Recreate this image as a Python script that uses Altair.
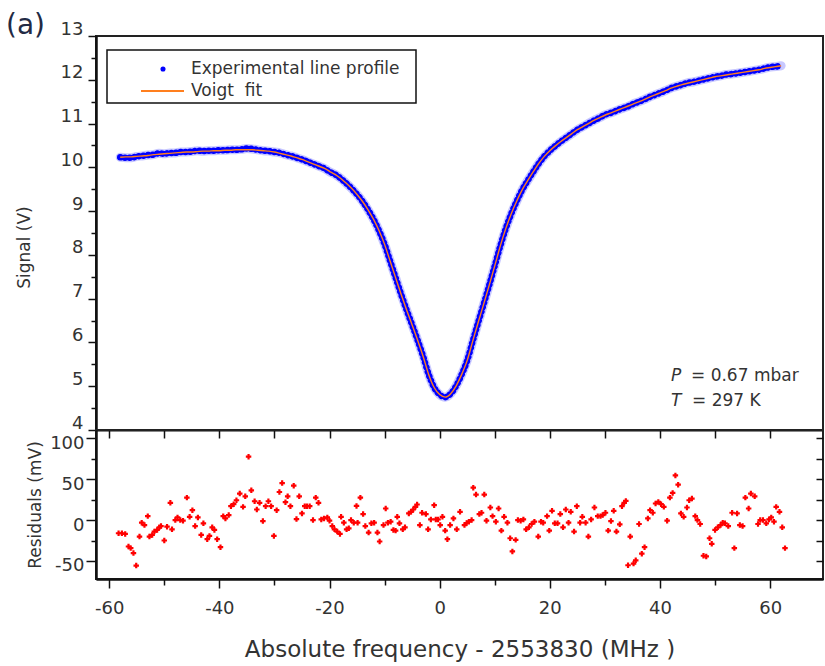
import altair as alt
import pandas as pd

FONT = "DejaVu Sans"
INK = "#333333"
BLUE = "#0000ff"
ORANGE = "#ff7f1e"
RED = "#ff0000"

# ---------------- data ----------------
# Voigt fit (V) at 1 MHz steps
fit_freq = list(range(-58, 63))
fit_signal = [
    10.23, 10.24, 10.24, 10.25, 10.26, 10.27, 10.29, 10.30, 10.31, 10.32,
    10.33, 10.34, 10.35, 10.35, 10.36, 10.37, 10.37, 10.38, 10.38, 10.39,
    10.39, 10.40, 10.40, 10.40, 10.40, 10.39, 10.38, 10.37, 10.35, 10.32,
    10.29, 10.26, 10.22, 10.18, 10.13, 10.08, 10.03, 9.98, 9.91, 9.84,
    9.75, 9.64, 9.52, 9.38, 9.22, 9.03, 8.81, 8.55, 8.24, 7.86,
    7.48, 7.10, 6.74, 6.40, 6.05, 5.68, 5.27, 4.97, 4.81, 4.75,
    4.83, 5.01, 5.27, 5.59, 6.03, 6.46, 6.88, 7.31, 7.75, 8.20,
    8.60, 8.94, 9.23, 9.49, 9.70, 9.90, 10.09, 10.25, 10.38, 10.49,
    10.59, 10.68, 10.77, 10.86, 10.93, 11.00, 11.07, 11.13, 11.19, 11.24,
    11.29, 11.34, 11.39, 11.44, 11.49, 11.54, 11.60, 11.65, 11.70, 11.75,
    11.81, 11.85, 11.89, 11.92, 11.95, 11.98, 12.01, 12.04, 12.07, 12.09,
    12.11, 12.13, 12.15, 12.17, 12.19, 12.21, 12.23, 12.26, 12.28, 12.30,
    12.32,
]

# Experimental line profile (V)
exp_freq = list(range(-58, 63))
exp_signal = [
    10.23, 10.22, 10.22, 10.25, 10.26, 10.28, 10.29, 10.32, 10.31, 10.33,
    10.33, 10.35, 10.35, 10.36, 10.38, 10.37, 10.38, 10.38, 10.39, 10.39,
    10.40, 10.40, 10.41, 10.43, 10.42, 10.40, 10.38, 10.37, 10.35, 10.33,
    10.29, 10.26, 10.22, 10.18, 10.13, 10.08, 10.03, 9.98, 9.90, 9.84,
    9.75, 9.64, 9.52, 9.38, 9.22, 9.03, 8.81, 8.55, 8.24, 7.86,
    7.48, 7.10, 6.74, 6.40, 6.05, 5.68, 5.27, 4.97, 4.81, 4.75,
    4.83, 5.01, 5.27, 5.59, 6.03, 6.46, 6.88, 7.31, 7.75, 8.20,
    8.60, 8.94, 9.23, 9.49, 9.70, 9.90, 10.09, 10.25, 10.38, 10.49,
    10.59, 10.68, 10.77, 10.86, 10.93, 11.00, 11.07, 11.13, 11.20, 11.24,
    11.29, 11.34, 11.38, 11.44, 11.49, 11.54, 11.60, 11.65, 11.70, 11.75,
    11.81, 11.85, 11.89, 11.93, 11.95, 11.98, 12.01, 12.04, 12.07, 12.09,
    12.12, 12.13, 12.15, 12.17, 12.19, 12.21, 12.23, 12.26, 12.29, 12.30,
    12.32,
]

# Residuals (mV)
res_freq = [
    -58.3, -57.7, -57.1, -56.5, -56.1, -55.6, -55.1, -54.5, -54.1, -53.6,
    -53.0, -52.7, -52.2, -51.8, -51.3, -50.9, -50.6, -50.0, -49.5, -48.9,
    -48.6, -48.0, -47.6, -47.1, -46.6, -45.9, -45.4, -44.9, -44.4, -43.9,
    -43.3, -42.9, -42.2, -41.8, -41.3, -40.9, -40.4, -39.8, -39.3, -38.9,
    -38.3, -37.9, -37.4, -36.9, -36.3, -35.7, -35.3, -34.7, -34.2, -33.6,
    -33.2, -32.7, -32.1, -31.6, -31.1, -30.6, -30.1, -29.6, -29.1, -28.6,
    -28.0, -27.6,
    -27.1, -26.5, -26.0, -25.5, -25.0, -24.5, -24.1, -23.6, -23.0, -22.5,
    -22.0, -21.5, -21.0, -20.4, -20.0, -19.5, -19.1, -18.6, -18.1, -17.9,
    -17.4, -16.9, -16.5, -16.1, -15.6, -15.1, -14.9, -14.4, -13.9, -13.5,
    -12.9, -12.4, -11.9, -11.3, -10.9, -10.2, -9.8, -9.4, -8.9, -8.4,
    -8.0, -7.7, -7.3, -6.7, -6.3, -5.6, -5.2, -4.8, -4.4, -4.1,
    -3.6, -3.2, -2.5, -2.1, -1.6, -1.0, -0.7, -0.3, 0.1, 0.5,
    1.0, 1.4, 1.9, 2.5, 3.1, 3.7,
    4.5, 4.9, 5.3, 5.8, 6.1, 6.6, 7.2, 7.6, 8.1, 8.5,
    9.2, 9.6, 10.2, 10.7, 11.2, 11.7, 12.3, 12.8, 13.2, 13.8,
    14.2, 14.7, 15.2, 15.7, 16.2, 16.7, 17.2, 17.9, 18.4, 18.8,
    19.5, 19.9, 20.4, 20.9, 21.4, 21.9, 22.4, 22.9, 23.4, 23.8,
    24.4, 24.9, 25.5, 25.9, 26.5, 27.0, 27.5, 28.1, 28.7, 29.2,
    29.6, 30.1, 30.6, 31.1, 31.6, 32.1, 32.7, 33.1, 33.5, 33.8,
    34.2, 34.6,
    35.2, 35.6, 36.2, 36.7, 37.2, 37.8, 38.2, 38.7, 39.2, 39.7,
    40.2, 40.7, 41.3, 41.8, 42.3, 42.8, 43.3, 43.8, 44.3, 44.9,
    45.3, 45.8, 46.4, 46.8, 47.3, 47.9, 48.4, 49.0, 49.4, 50.0,
    50.5, 51.0, 51.4, 51.8, 52.4, 53.1, 53.5, 54.0, 54.5, 55.0,
    55.5, 56.1, 56.5, 57.2, 57.8, 58.2, 58.7, 59.3, 59.8, 60.2,
    60.7, 61.1, 61.7, 62.2, 62.7,
]
res_mv = [
    -16.1, -16.1, -16.9, -32.3, -34.3, -40.3, -55.6, -20.2, -3.2, -6.1,
    4.8, -20.2, -18.2, -14.1, -12.1, -8.9, -7.3, -25.0, -8.1, 21.0,
    -11.3, 0.0, 3.2, 0.0, -0.8, 27.4, 4.0, 12.1, -7.3, 3.2,
    -18.2, -4.0, -23.4, -19.4, -8.9, -12.1, -23.4, -33.1, 4.8, 2.0,
    6.1, 16.9, 19.4, 24.2, 32.3, 16.1, 29.0, 77.4, 36.3, 23.0,
    12.9, 21.0, -1.2, 16.9, 23.0, 16.9, -19.4, 12.1, 34.3, 45.2,
    21.8, 29.0,
    16.9, 42.0, 1.2, 29.0, 8.1, 16.9, 16.9, 16.9, 0.0, 27.4,
    21.0, 0.8, 2.0, 3.2, -0.8, -7.3, -11.3, -14.1, -16.9, 4.0,
    -3.2, -11.3, -10.1, 0.0, -3.2, 17.3, -3.2, 27.4, 7.3, -7.3,
    -15.3, -4.0, -3.2, -15.3, -26.2, -6.1, 14.1, -3.2, -2.0, -12.1,
    -12.9, 4.0, -4.0, -11.3, -8.9, 8.1, 10.1, 12.9, 16.1, 19.0,
    -6.1, 8.9, 7.3, -11.3, 0.8, 18.2, 0.8, 0.8, -6.1, 4.0,
    -12.9, -23.4, -6.1, 2.0, -11.3, 10.1,
    -6.1, -3.6, -2.0, 0.0, 39.5, 31.1, 7.3, 8.9, 31.1, -0.8,
    15.3, 4.8, -2.0, 14.1, -12.9, 4.0, -3.2, -22.2, -38.3, -24.2,
    0.0, -0.8, 0.8, -11.3, -8.9, -4.8, -2.0, -20.2, -2.0, -3.2,
    4.8, -12.9, 11.3, -4.0, -4.0, 7.3, -8.9, 12.9, -3.2, 10.1,
    -14.1, 16.9, -3.2, 4.0, -3.2, -20.2, 0.8, 15.3, 4.8, 4.8,
    6.1, 8.9, -12.9, -1.2, 11.3, -14.1, -5.2, 16.9, 21.0, 23.4,
    -55.2, -20.2,
    -53.2, -49.2, -4.8, -41.1, -33.1, 2.0, 12.1, 8.9, 20.2, 22.2,
    19.4, 16.1, -0.8, 27.4, 33.1, 54.5, 43.2, 8.1, 4.0, 15.3,
    24.2, 26.2, 4.8, 0.0, -4.8, -43.6, -44.4, -22.2, -29.0, -12.1,
    -8.9, -6.1, -3.2, -4.0, -7.3, 8.9, -34.3, 8.1, -6.1, -7.3,
    27.4, 14.1, 32.3, 29.0, -4.8, 0.0, 0.0, -4.0, 0.8, 3.2,
    -2.0, 16.1, 10.1, -8.9, -34.3,
]

# tick values and labels
top_y_major = [4, 5, 6, 7, 8, 9, 10, 11, 12, 13]
top_y_minor = [4.5, 5.5, 6.5, 7.5, 8.5, 9.5, 10.5, 11.5, 12.5]
x_major = [-60, -40, -20, 0, 20, 40, 60]
x_minor = [-50, -30, -10, 10, 30, 50]
x_every10 = [-60, -50, -40, -30, -20, -10, 0, 10, 20, 30, 40, 50, 60]
res_major = [-50, 0, 50, 100]
res_minor = [-25, 25, 75]
res_all = [-50, -25, 0, 25, 50, 75, 100]

legend_labels = ["Experimental line profile", "Voigt\u00a0 fit"]
panel_label = ["(a)"]
note_sym = ["P", "T"]
note_txt = ["= 0.67 mbar", "= 297 K"]

# ---------------- chart ----------------
W, H1, H2 = 727, 394, 149

fit_df = pd.DataFrame({"f": fit_freq, "v": fit_signal})
exp_df = pd.DataFrame({"f": exp_freq, "v": exp_signal})
res_df = pd.DataFrame({"f": res_freq, "mv": res_mv})
one = pd.DataFrame({"k": [0]})

xs = alt.Scale(domain=[-62.4, 69.6], nice=False, zero=False)
ys_top = alt.Scale(domain=[4, 13], nice=False, zero=False)
ys_bot = alt.Scale(domain=[-72, 110], nice=False, zero=False)

HYPHEN = "toString(datum.value)"

halo = alt.Chart(exp_df).mark_line(
    color="#4a4aff", strokeWidth=9, opacity=0.3, interpolate="monotone", strokeCap="round"
).encode(
    x=alt.X("f:Q", scale=xs, axis=None),
    y=alt.Y("v:Q", scale=ys_top, axis=None),
)

exp_line = alt.Chart(exp_df).mark_line(
    color=BLUE, strokeWidth=6.5, strokeDash=[0.1, 4.6], strokeCap="round", interpolate="monotone"
).encode(
    x=alt.X("f:Q", scale=xs, axis=None),
    y=alt.Y(
        "v:Q", scale=ys_top,
        axis=alt.Axis(orient="left", values=top_y_major, tickSize=8, labelPadding=5,
                      labelBaseline="alphabetic", labelOffset=-2, title="Signal (V)",
                      titlePadding=27, titleY=211),
    ),
)

fit_line = alt.Chart(fit_df).mark_line(
    color=ORANGE, strokeWidth=1.4, interpolate="monotone"
).encode(
    x=alt.X("f:Q", scale=xs,
            axis=alt.Axis(orient="bottom", values=x_every10, tickSize=8, labels=False, title=None)),
    y=alt.Y("v:Q", scale=ys_top,
            axis=alt.Axis(orient="left", values=top_y_minor, tickSize=5, labels=False, title=None)),
)

leg_box = alt.Chart(one).mark_rect(fill="white", stroke="#111", strokeWidth=1.5).encode(
    x=alt.value(11), x2=alt.value(320), y=alt.value(14), y2=alt.value(67)
)
leg_dot = alt.Chart(one).mark_point(filled=True, color=BLUE, size=26, opacity=1).encode(
    x=alt.value(67), y=alt.value(33)
)
leg_line = alt.Chart(one).mark_rule(color=ORANGE, strokeWidth=2).encode(
    x=alt.value(45), x2=alt.value(88), y=alt.value(55)
)
leg_t1 = alt.Chart(pd.DataFrame({"t": [legend_labels[0]]})).mark_text(
    align="left", baseline="middle", font=FONT, fontSize=17, color=INK
).encode(text="t:N", x=alt.value(95), y=alt.value(33))
leg_t2 = alt.Chart(pd.DataFrame({"t": [legend_labels[1]]})).mark_text(
    align="left", baseline="middle", font=FONT, fontSize=17, color=INK
).encode(text="t:N", x=alt.value(95), y=alt.value(55))

lab_a = alt.Chart(pd.DataFrame({"t": panel_label})).mark_text(
    align="left", baseline="alphabetic", font=FONT, fontSize=28, color="#222a44"
).encode(text="t:N", x=alt.value(-90), y=alt.value(-2))

p_sym = alt.Chart(pd.DataFrame({"t": [note_sym[0]]})).mark_text(
    align="left", baseline="middle", font=FONT, fontSize=17, fontStyle="italic", color=INK
).encode(text="t:N", x=alt.value(575), y=alt.value(340))
p_txt = alt.Chart(pd.DataFrame({"t": [note_txt[0]]})).mark_text(
    align="left", baseline="middle", font=FONT, fontSize=17, color=INK
).encode(text="t:N", x=alt.value(595), y=alt.value(340))
t_sym = alt.Chart(pd.DataFrame({"t": [note_sym[1]]})).mark_text(
    align="left", baseline="middle", font=FONT, fontSize=17, fontStyle="italic", color=INK
).encode(text="t:N", x=alt.value(575), y=alt.value(365))
t_txt = alt.Chart(pd.DataFrame({"t": [note_txt[1]]})).mark_text(
    align="left", baseline="middle", font=FONT, fontSize=17, color=INK
).encode(text="t:N", x=alt.value(596), y=alt.value(365))

top = alt.layer(
    halo, exp_line, fit_line, leg_box, leg_dot, leg_line, leg_t1, leg_t2,
    lab_a, p_sym, p_txt, t_sym, t_txt,
).resolve_scale(x="shared", y="shared").resolve_axis(
    x="independent", y="independent"
).properties(width=W, height=H1)

res_pts = alt.Chart(res_df).mark_point(
    filled=True, shape="cross", size=30, color=RED, opacity=1
).encode(
    x=alt.X("f:Q", scale=xs,
            axis=alt.Axis(orient="bottom", values=x_major, tickSize=9, labelPadding=11,
                          labelExpr=HYPHEN,
                          title="Absolute frequency - 2553830 (MHz )", titleFontSize=23,
                          titlePadding=21)),
    y=alt.Y("mv:Q", scale=ys_bot,
            axis=alt.Axis(orient="left", values=res_major, tickSize=10, labelPadding=2,
                          labelBaseline="middle", labelOffset=5, labelExpr=HYPHEN,
                          title="Residuals (mV)", titlePadding=5)),
)
res_minor_axes = alt.Chart(res_df).mark_point(opacity=0).encode(
    x=alt.X("f:Q", scale=xs,
            axis=alt.Axis(orient="bottom", values=x_minor, tickSize=6, labels=False, title=None)),
    y=alt.Y("mv:Q", scale=ys_bot,
            axis=alt.Axis(orient="left", values=res_minor, tickSize=5, labels=False, title=None)),
)
res_right_axis = alt.Chart(res_df).mark_point(opacity=0).encode(
    x=alt.X("f:Q", scale=xs, axis=None),
    y=alt.Y("mv:Q", scale=ys_bot,
            axis=alt.Axis(orient="left", offset=-W, values=res_all, tickSize=7, labels=False,
                          domain=False, title=None)),
)

bottom = alt.layer(res_pts, res_minor_axes, res_right_axis).resolve_scale(
    x="shared", y="shared"
).resolve_axis(x="independent", y="independent").properties(width=W, height=H2)

chart = alt.vconcat(top, bottom, spacing=0).properties(
    bounds="flush", padding={"left": 5, "top": 11, "right": 0, "bottom": 0}
).configure_axis(
    grid=False, domainColor="#111", domainWidth=2, tickColor="#111", tickWidth=1.5,
    labelFont=FONT, labelFontSize=18, labelColor=INK,
    titleFont=FONT, titleFontSize=17, titleColor=INK, titleFontWeight="normal",
).configure_view(stroke="#222", strokeWidth=2)

chart.save("out.html", embed_options={"renderer": "svg", "actions": False})
